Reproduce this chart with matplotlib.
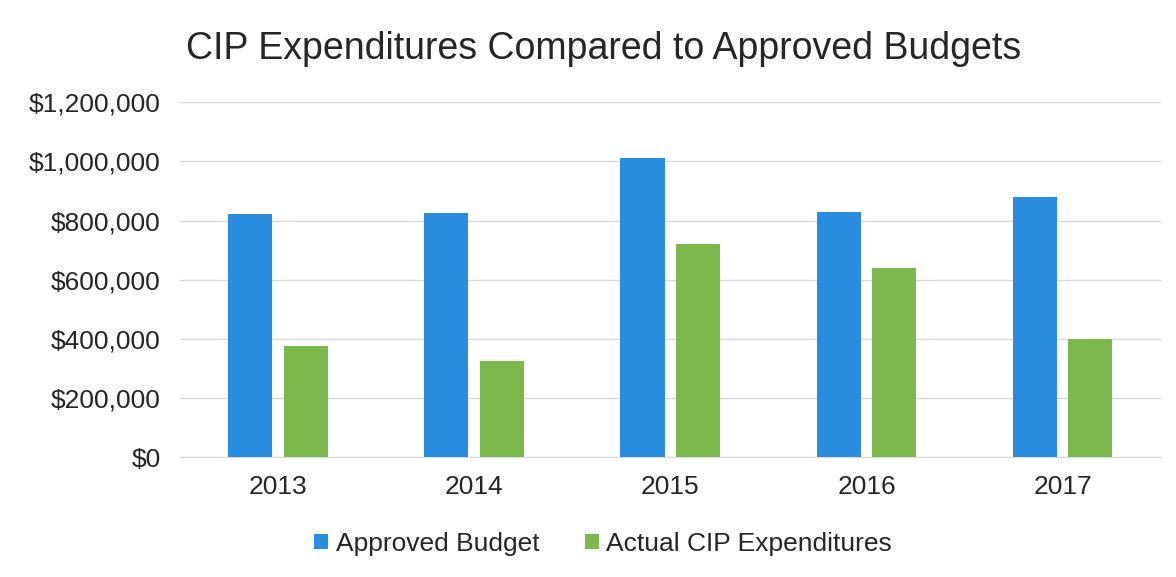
import matplotlib
matplotlib.use("Agg")
import matplotlib.pyplot as plt
import numpy as np
from matplotlib.ticker import FuncFormatter, MultipleLocator

years = ["2013", "2014", "2015", "2016", "2017"]
approved_budget = [821000, 826000, 1010000, 830000, 880000]
actual_expenditures = [377000, 326000, 721000, 639000, 400000]

blue = "#2A8CDE"
green = "#7DB84C"

plt.rcParams["font.family"] = ["Liberation Sans", "DejaVu Sans"]

fig = plt.figure(figsize=(11.76, 5.77), dpi=100)
ax = fig.add_axes([0.153, 0.2075, 0.834, 0.6155])

x = np.arange(len(years))
w = 0.225
gap = 0.058
ax.bar(x - (w + gap) / 2, approved_budget, width=w, color=blue, label="Approved Budget", zorder=3)
ax.bar(x + (w + gap) / 2, actual_expenditures, width=w, color=green, label="Actual CIP Expenditures", zorder=3)

ax.set_xlim(-0.5, len(years) - 0.5)
ax.set_ylim(0, 1200000)
ax.yaxis.set_major_locator(MultipleLocator(200000))
ax.yaxis.set_major_formatter(FuncFormatter(lambda v, p: f"${v:,.0f}"))
ax.set_xticks(x)
ax.set_xticklabels(years)

ax.grid(axis="y", color="#d9d9d9", linewidth=1, zorder=0)
for s in ["top", "right", "left"]:
    ax.spines[s].set_visible(False)
ax.spines["bottom"].set_color("#d9d9d9")
ax.tick_params(axis="both", length=0, labelsize=19, colors="#262626")
ax.tick_params(axis="y", pad=14)
ax.tick_params(axis="x", pad=13)

fig.text(0.513, 0.898, "CIP Expenditures Compared to Approved Budgets",
         ha="center", va="baseline", fontsize=27, color="#262626")

fig.legend(loc="center", bbox_to_anchor=(0.513, 0.058), ncol=2, frameon=False,
           fontsize=19, handlelength=0.5, handleheight=0.5, handletextpad=0.3,
           columnspacing=1.75, labelcolor="#262626")

fig.savefig("out.png", dpi=100, facecolor="white")
